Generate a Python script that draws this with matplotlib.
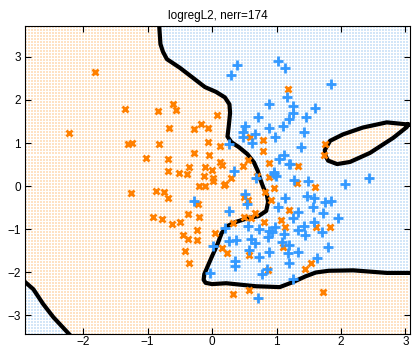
import numpy as np
import matplotlib
matplotlib.use("Agg")
import matplotlib.pyplot as plt
from matplotlib.path import Path

plt.rcParams['font.family'] = ['Liberation Sans', 'DejaVu Sans']

# ---------------- data ----------------
orange_x = [-1.81, -2.22, -1.35, -1.30, -1.24, -0.84, -0.60, -0.56, -0.67, -0.82,
            -1.02, -0.68, -0.28, -0.17, -0.06, 0.08, -0.28, -0.06, -0.05, 0.12,
            0.12, 0.16, -0.68, -0.51, -0.36, -0.39, -0.11, 0.00, -0.12, 0.02,
            -0.20, -0.11, 0.19, -1.25, -0.87, -0.74, -0.68, -0.22, -0.37, -0.91,
            -0.78, -0.62, -0.50, -0.20, -0.24, -0.45, -0.37, -0.23, -0.42, -0.36,
            0.05, 0.16, 0.23,
            1.18, 0.59, 0.79, 0.79, 0.56, 0.48, 0.88, 1.33, 1.75, 1.74,
            0.02, 0.20, 0.29, 0.70, 0.88, 0.96, 1.32, 1.60, 0.50, 0.56,
            0.91, 1.19, 0.67, 0.50, 0.60, 0.33, 0.81, 1.07, 1.13, 1.61,
            1.83, 0.57, 1.10, 0.87, 1.44, 1.53, 0.33, 0.57, 1.72, 0.82]
orange_y = [2.65, 1.23, 1.79, 0.98, 1.00, 1.74, 1.90, 1.77, 1.35, 0.98,
            0.65, 0.62, 1.32, 1.44, 1.35, 1.65, 0.77, 1.02, 0.72, 0.93,
            0.56, 0.49, 0.35, 0.30, 0.44, 0.28, 0.44, 0.37, 0.23, 0.12,
            0.00, 0.00, 0.02, -0.16, -0.12, -0.13, -0.28, -0.42, -0.65, -0.72,
            -0.76, -0.88, -0.83, -0.72, -1.02, -1.14, -1.23, -1.26, -1.51, -1.79,
            -1.09, -1.44, -1.56,
            2.25, 1.14, 1.07, 0.82, 0.60, 0.47, 0.53, 0.47, 0.98, 0.72,
            0.19, 0.05, 0.19, 0.23, 0.21, -0.05, 0.07, -0.02, -0.26, -0.33,
            -0.33, -0.56, -0.63, -0.72, -0.74, -0.86, -0.84, -0.79, -0.95, -0.95,
            -0.95, -1.60, -1.42, -1.95, -1.93, -1.79, -2.51, -2.42, -2.47, -0.14]

blue_x = [0.39, 0.29, 1.02, 1.13, 1.85, 1.17, 0.88, 1.26, 1.60, 0.71,
          1.26, 1.19, 1.45, 1.10, 0.88, 0.51, 0.48, 0.48, 0.67, 0.98,
          1.43, 0.62, 1.38, 1.12, 1.04, 1.19, 0.26, 0.34, 0.96, 2.06,
          2.43, 1.84, 1.75, 1.72, 1.95, 1.70, 1.80, 0.99, 1.27, 1.49,
          1.13, 1.47, 0.51, 0.26, 1.02, 1.26, 0.56, 0.73, 0.88, 0.98,
          1.12, 1.33, 1.43, 1.58, 1.44, 0.26, 0.37, 0.60, 0.67, 0.87,
          1.09, 1.19, 1.33, 0.57, 0.73, 0.88, 1.18, 1.19, 0.36, 0.36,
          0.78, 0.85, -0.03, 1.26, 0.71, 0.02, 0.20, 0.68, 0.54, -0.28,
          1.58, 1.57, 1.33, 1.63, 0.93, 0.96, 1.21]
blue_y = [2.81, 2.58, 2.90, 2.74, 2.37, 2.07, 1.91, 1.86, 1.81, 1.60,
          1.70, 1.56, 1.61, 1.40, 1.35, 1.40, 1.25, 1.14, 1.21, 1.14,
          1.26, 1.00, 0.91, 0.72, 0.63, 0.51, 0.98, 0.35, 0.33, 0.05,
          0.19, -0.35, -0.37, -0.63, -0.74, -1.07, -1.42, 0.23, 0.14, 0.12,
          -0.28, -0.23, -0.19, -0.58, -0.49, -0.74, -0.93, -1.00, -1.05, -0.95,
          -1.12, -1.02, -0.93, -0.84, -1.14, -1.28, -1.26, -1.23, -1.33, -1.19,
          -1.30, -1.37, -1.53, -1.49, -1.65, -1.53, -1.56, -1.79, -1.74, -1.86,
          -2.05, -1.93, -2.02, -2.16, -2.60, -1.40, -0.98, 0.19, -0.42, -0.35,
          -0.28, -0.49, -0.60, -1.67, -1.07, 0.28, 0.51]

# decision boundary
main_bx = [-0.82, -0.80, -0.76, -0.70, -0.50, -0.30, -0.11, 0.06, 0.20, 0.27,
           0.28, 0.26, 0.24, 0.30, 0.42, 0.55, 0.65, 0.71, 0.75, 0.80,
           0.85, 0.87, 0.84, 0.72, 0.55, 0.36, 0.24, 0.15, 0.08, 0.01,
           -0.06, -0.12, -0.13, -0.10, 0.00, 0.22, 0.68, 1.05, 1.26, 1.45,
           1.61, 1.81, 2.19, 2.71, 3.10]
main_by = [3.75, 3.30, 3.12, 2.95, 2.75, 2.52, 2.30, 2.19, 2.06, 1.90,
           1.70, 1.40, 1.15, 1.02, 0.90, 0.74, 0.55, 0.35, 0.15, -0.05,
           -0.20, -0.37, -0.58, -0.70, -0.75, -0.84, -0.93, -1.09, -1.37, -1.60,
           -1.84, -2.05, -2.18, -2.25, -2.28, -2.26, -2.33, -2.35, -2.23, -2.10,
           -2.01, -1.97, -1.96, -2.02, -2.02]

island_bx = [3.04, 2.71, 2.34, 2.03, 1.83, 1.75, 1.76, 1.80, 1.94, 2.14,
             2.45, 2.81, 3.02, 3.04]
island_by = [1.43, 1.48, 1.36, 1.20, 1.05, 0.84, 0.70, 0.59, 0.51, 0.56,
             0.77, 1.12, 1.37, 1.43]

corner_bx = [-2.95, -2.90, -2.77, -2.62, -2.46, -2.23, -2.18]
corner_by = [-2.16, -2.23, -2.40, -2.74, -3.05, -3.42, -3.50]

title = "logregL2, nerr=174"
xticks = [-2, -1, 0, 1, 2, 3]
yticks = [-3, -2, -1, 0, 1, 2, 3]
xlim = (-2.9, 3.07)
ylim = (-3.44, 3.72)

# ---------------- figure ----------------
W, H = 412, 348
fig = plt.figure(figsize=(W / 100, H / 100), dpi=100)
ax = fig.add_axes([25 / W, 14 / H, 385 / W, 308 / H])

# background dot grid classified by the traced boundary
gx = np.arange(xlim[0] + 0.01, xlim[1], 3 / 64.4)
gy = np.arange(ylim[0] + 0.01, ylim[1], 3 / 43.0)
GX, GY = np.meshgrid(gx, gy)
pts = np.column_stack([GX.ravel(), GY.ravel()])

blue_poly = list(zip(main_bx, main_by)) + [(3.3, -2.02), (3.3, 3.9), (-0.82, 3.9)]
in_blue = Path(blue_poly).contains_points(pts)
in_island = Path(list(zip(island_bx, island_by))).contains_points(pts)
corner_poly = list(zip(corner_bx, corner_by)) + [(-3.1, -3.6), (-3.1, -2.16)]
in_corner = Path(corner_poly).contains_points(pts)
is_blue = (in_blue & ~in_island) | in_corner

ax.scatter(pts[is_blue, 0], pts[is_blue, 1], marker='s', s=0.75, c='#d3e6f8',
           linewidths=0, zorder=1)
ax.scatter(pts[~is_blue, 0], pts[~is_blue, 1], marker='s', s=0.75, c='#fee2c4',
           linewidths=0, zorder=1)

# boundary
lw_b = 3.0
ax.plot(main_bx, main_by, color='black', lw=lw_b, solid_capstyle='round',
        solid_joinstyle='round', zorder=2)
ax.plot(island_bx, island_by, color='black', lw=lw_b, solid_joinstyle='round', zorder=2)
ax.plot(corner_bx, corner_by, color='black', lw=lw_b, solid_joinstyle='round', zorder=2)

# points
ax.plot(orange_x, orange_y, linestyle='none', marker='x', color='#ff8000',
        markersize=5.0, markeredgewidth=2.0, zorder=3)
ax.plot(blue_x, blue_y, linestyle='none', marker='+', color='#3399ff',
        markersize=7, markeredgewidth=2.0, zorder=3)

ax.set_xlim(*xlim)
ax.set_ylim(*ylim)
ax.set_xticks(xticks)
ax.set_yticks(yticks)
ax.set_xticklabels(['\u2212' + str(-t) if t < 0 else str(t) for t in xticks])
ax.set_yticklabels(['\u2212' + str(-t) if t < 0 else str(t) for t in yticks])
ax.tick_params(direction='in', length=4, width=0.8, top=True, right=True,
               labelsize=8.5)
ax.tick_params(axis='x', pad=1.5)
ax.tick_params(axis='y', pad=3)
for s in ax.spines.values():
    s.set_linewidth(0.8)
ax.set_title(title, fontsize=8.5, pad=5)

fig.savefig("out.png", dpi=100)
